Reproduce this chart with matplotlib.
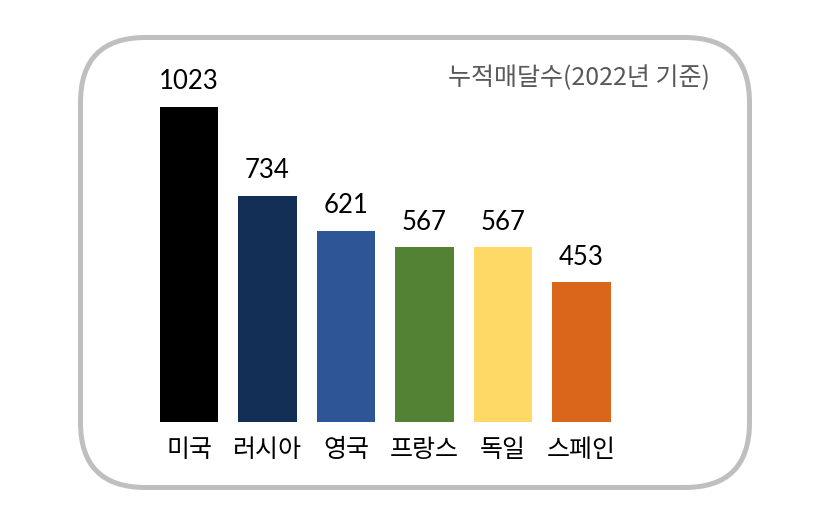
import matplotlib
matplotlib.use('Agg')
from matplotlib import pyplot as plt
from matplotlib.patches import FancyBboxPatch
from matplotlib.transforms import IdentityTransform

plt.rcParams['font.family'] = ['Noto Sans CJK KR', 'DejaVu Sans']

countries = ['미국', '러시아', '영국', '프랑스', '독일', '스페인']
medals = [1023, 734, 621, 567, 567, 453]
colors = ['#000000', '#142f55', '#2e5595', '#548235', '#ffd966', '#d9661a']
title = '누적매달수(2022년 기준)'

W, H = 821, 523
fig = plt.figure(figsize=(W / 100, H / 100), dpi=100)

# rounded grey frame, drawn in pixels, behind the axes
frame = FancyBboxPatch((80.5, 35.5), 669, 450,
                       boxstyle='round,pad=0,rounding_size=65',
                       transform=IdentityTransform(),
                       facecolor='white', edgecolor='#bfbfbf', linewidth=3.6,
                       zorder=-10)
fig.patches.append(frame)

ax = fig.add_axes([149.75 / W, 101 / H, 471 / W, 370 / H])
ax.set_zorder(5)
ax.set_xlim(-0.5, 5.5)
ax.set_ylim(0, 1200)
x = range(len(countries))
ax.bar(x, medals, width=0.74, color=colors)

for i, v in enumerate(medals):
    ax.annotate(str(v), (i, v), xytext=(0, 9), textcoords='offset points',
                ha='center', va='bottom', fontsize=18.5, family='Lato')

ax.set_xticks(list(x))
ax.set_xticklabels(countries, fontsize=18)
ax.tick_params(axis='x', length=0, pad=11)
ax.set_yticks([])
for s in ax.spines.values():
    s.set_visible(False)
ax.patch.set_alpha(0)

fig.text(710 / W, 1 - 78 / H, title, ha='right', va='center',
         fontsize=18, color='#595959', zorder=6)

fig.savefig('out.png', dpi=100)
